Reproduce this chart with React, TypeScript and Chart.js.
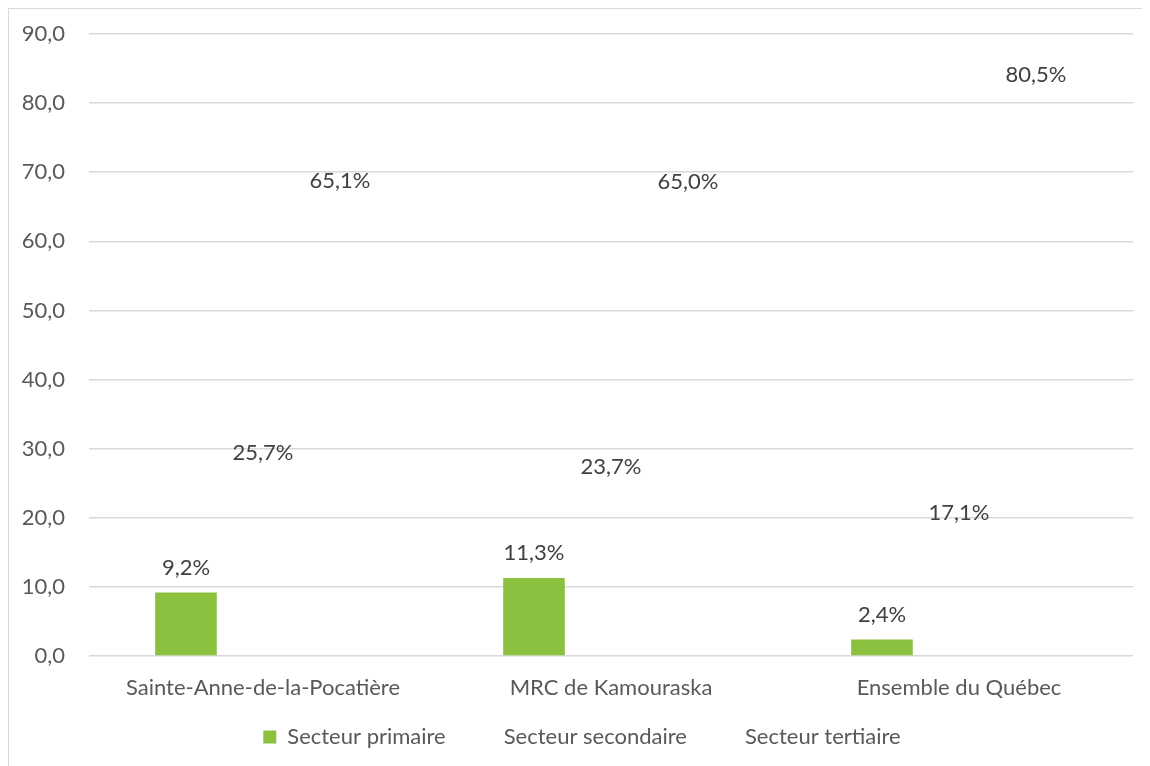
import React, { useEffect, useRef } from "react";
import { Chart, registerables } from "chart.js";

Chart.register(...registerables);

const categories = ["Sainte-Anne-de-la-Pocatière", "MRC de Kamouraska", "Ensemble du Québec"];
const seriesNames = ["Secteur primaire", "Secteur secondaire", "Secteur tertiaire"];
const primaire = [9.2, 11.3, 2.4];
const secondaire = [25.7, 23.7, 17.1];
const tertiaire = [65.1, 65.0, 80.5];
const seriesColors = ["#8bc13f", "rgba(0,0,0,0)", "rgba(0,0,0,0)"];
const yTicksMax = 90;
const yStep = 10;

const FONT = "Lato, 'Open Sans', sans-serif";
const FS = 22;

const fmtPct = (v: number) => v.toFixed(1).replace(".", ",") + "%";

const labelPlugin = {
  id: "barLabels",
  afterDatasetsDraw(chart: any) {
    const ctx = chart.ctx;
    ctx.save();
    ctx.font = `${FS}px ${FONT}`;
    ctx.fillStyle = "#404040";
    ctx.textAlign = "center";
    ctx.textBaseline = "bottom";
    chart.data.datasets.forEach((ds: any, di: number) => {
      const meta = chart.getDatasetMeta(di);
      meta.data.forEach((el: any, i: number) => {
        ctx.fillText(fmtPct(ds.data[i]), el.x, el.y - 14);
      });
    });
    ctx.restore();
  },
};

const legendShift = {
  id: "legendShift",
  afterLayout(chart: any) {
    const lg = chart.legend;
    if (!lg) return;
    lg.top -= 10;
    lg.bottom -= 10;
    lg.left += 11;
    lg.right += 11;
  },
};

export default function App() {
  const ref = useRef<HTMLCanvasElement>(null);
  useEffect(() => {
    document.documentElement.style.overflow = "hidden";
    document.body.style.overflow = "hidden";
    const datasets = [primaire, secondaire, tertiaire].map((d, i) => ({
      label: seriesNames[i],
      data: d,
      backgroundColor: seriesColors[i],
      borderWidth: 0,
      categoryPercentage: 0.664,
      barPercentage: 0.8,
    }));
    const chart = new Chart(ref.current!, {
      type: "bar",
      data: { labels: categories, datasets },
      plugins: [labelPlugin, legendShift],
      options: {
        animation: false,
        responsive: false,
        maintainAspectRatio: false,
        layout: { padding: { top: 25, right: 17, left: 0, bottom: 11 } },
        plugins: {
          tooltip: { enabled: false },
          legend: {
            position: "bottom",
            labels: {
              boxWidth: 13,
              boxHeight: 13,
              padding: 34,
              color: "#595959",
              font: { family: FONT, size: FS },
            },
          },
        },
        scales: {
          x: {
            afterFit: (s: any) => {
              s.height = 46;
            },
            grid: { display: false, drawTicks: false },
            border: { display: false },
            ticks: { color: "#595959", font: { family: FONT, size: FS }, padding: 19 },
          },
          y: {
            min: 0,
            max: yTicksMax,
            afterFit: (s: any) => {
              s.width = 80;
            },
            grid: {
              color: "#d9d9d9",
              lineWidth: 1.5,
              drawTicks: true,
              tickLength: 13,
              tickColor: "rgba(0,0,0,0)",
            },
            border: { display: false },
            ticks: {
              stepSize: yStep,
              padding: 11,
              color: "#595959",
              font: { family: FONT, size: FS },
              callback: (v: any) => Number(v).toFixed(1).replace(".", ","),
            },
          },
        },
      },
    });
    return () => chart.destroy();
  }, []);
  return (
    <div
      style={{
        width: 1141,
        height: 757,
        overflow: "hidden",
        borderLeft: "1px solid #d9d9d9",
        borderTop: "1px solid #d9d9d9",
        background: "#fff",
      }}
    >
      <canvas ref={ref} width={1141} height={770} style={{ display: "block" }} />
    </div>
  );
}
